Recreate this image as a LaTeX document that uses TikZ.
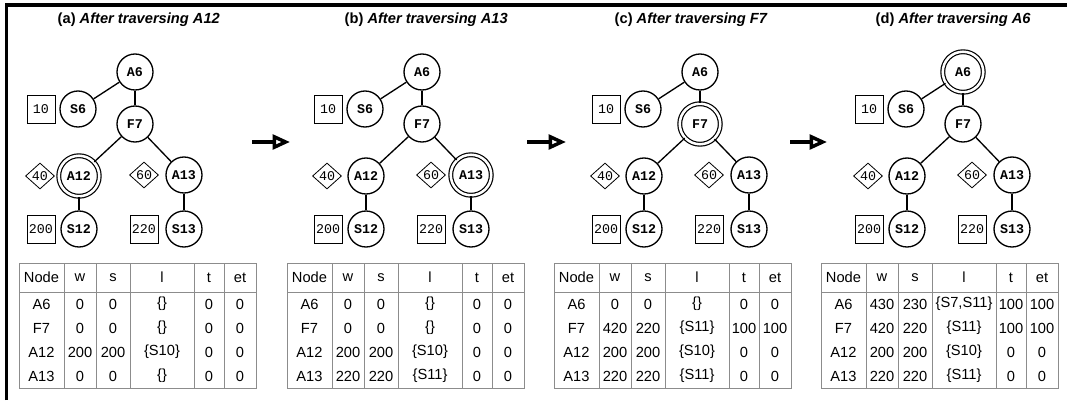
\documentclass[tikz,border=0pt]{standalone}
\usepackage{fontspec}
\setmainfont{Liberation Sans}
\newfontfamily\monofont{Liberation Mono}
\usetikzlibrary{shapes.geometric,arrows.meta}

\begin{document}
\begin{tikzpicture}[x=0.75pt, y=-0.75pt,
    nodo/.style={circle, draw, line width=1pt, minimum size=27pt, inner sep=0pt, font=\fontsize{10}{11}\monofont\bfseries},
    segnato/.style={double, double distance=1.9pt, line width=0.9pt, minimum size=30.4pt},
    peso/.style={rectangle, draw, line width=0.6pt, minimum size=21pt, inner sep=1pt, font=\fontsize{10}{11}\monofont},
    somma/.style={diamond, draw, line width=0.6pt, minimum width=21.75pt, minimum height=19.5pt, inner sep=0pt, font=\fontsize{10}{11}\monofont},
    arco/.style={line width=1pt},
    titolo/.style={anchor=west, font=\fontsize{11}{13}\selectfont\bfseries},
    cella/.style={inner sep=0pt, font=\fontsize{11}{13}\selectfont},
    griglia/.style={draw=black!45, line width=0.75pt},
    freccia/.style={line width=2.6pt, -{Triangle[open, length=13pt, width=11pt]}}]
      \useasboundingbox (0,0) rectangle (1067,400);

      % Cornice
      \draw[line width=2.5pt] (6.5,400) -- (6.5,5) -- (1067,5);

      % Alberi
      \foreach \px/\p/\m/\tx in {135/a/A12/53, 422/b/A13/340, 700/c/F7/610, 963/d/A6/871}{
        \tikzset{A6/.style={}, F7/.style={}, A12/.style={}, A13/.style={}, \m/.style={segnato}}
        \node[titolo] (t\p) at (\tx,20) {(\p) \textit{After traversing \m}};
        \node[nodo, A6] (A6\p) at (\px,72) {A6};
        \node[nodo] (S6\p) at (\px-57,109) {S6};
        \node[nodo, F7] (F7\p) at (\px,124) {F7};
        \node[nodo, A12] (A12\p) at (\px-56,176) {A12};
        \node[nodo, A13] (A13\p) at (\px+49,175) {A13};
        \node[nodo] (S12\p) at (\px-56,229) {S12};
        \node[nodo] (S13\p) at (\px+49,229) {S13};
        \node[peso] (p6\p) at (\px-94,109) {10};
        \node[somma] (d12\p) at (\px-95,176) {40};
        \node[somma] (d13\p) at (\px+9,175) {60};
        \node[peso] (p12\p) at (\px-94,229) {200};
        \node[peso] (p13\p) at (\px+9,229) {220};
        \draw[arco] (A6\p) -- (S6\p);
        \draw[arco] (A6\p) -- (F7\p);
        \draw[arco] (F7\p) -- (A12\p);
        \draw[arco] (F7\p) -- (A13\p);
        \draw[arco] (A12\p) -- (S12\p);
        \draw[arco] (A13\p) -- (S13\p);
      }

      % Tabelle
      \foreach \bx/\p in {19/a, 287/b, 554/c, 821/d}{
        \draw[griglia] (\bx,263) rectangle ++(237,125);
        \draw[griglia] (\bx,292) -- ++(237,0);
        \foreach \c in {45,77,111,175,205}
          \draw[griglia] (\bx+\c,263) -- ++(0,125);
        \foreach \c/\h [count=\k] in {22.5/Node, 61/w, 94/s, 143/l, 190/t, 221/et}
          \node[cella] (h\p\k) at (\bx+\c,277.5) {\h};
      }
      \foreach \bx/\p/\r/\y/\n/\w/\s/\l/\t/\e in {
          19/a/1/304/A6/0/0/\{\}/0/0, 19/a/2/328/F7/0/0/\{\}/0/0,
          19/a/3/352/A12/200/200/\{S10\}/0/0, 19/a/4/376/A13/0/0/\{\}/0/0,
          287/b/1/304/A6/0/0/\{\}/0/0, 287/b/2/328/F7/0/0/\{\}/0/0,
          287/b/3/352/A12/200/200/\{S10\}/0/0, 287/b/4/376/A13/220/220/\{S11\}/0/0,
          554/c/1/304/A6/0/0/\{\}/0/0, 554/c/2/328/F7/420/220/\{S11\}/100/100,
          554/c/3/352/A12/200/200/\{S10\}/0/0, 554/c/4/376/A13/220/220/\{S11\}/0/0,
          821/d/1/304/A6/430/230/{\{S7,S11\}}/100/100, 821/d/2/328/F7/420/220/\{S11\}/100/100,
          821/d/3/352/A12/200/200/\{S10\}/0/0, 821/d/4/376/A13/220/220/\{S11\}/0/0}{
        \node[cella] (n\p\r) at (\bx+22.5,\y) {\n};
        \node[cella] (w\p\r) at (\bx+61,\y) {\w};
        \node[cella] (s\p\r) at (\bx+94,\y) {\s};
        \node[cella] (l\p\r) at (\bx+143,\y) {\l};
        \node[cella] (t\p\r) at (\bx+190,\y) {\t};
        \node[cella] (e\p\r) at (\bx+221,\y) {\e};
      }

      % Frecce
      \coordinate (f1s) at (252,142);
      \coordinate (f1e) at (290,142);
      \coordinate (f2s) at (527,142);
      \coordinate (f2e) at (566,142);
      \coordinate (f3s) at (790,142);
      \coordinate (f3e) at (827,142);
      \draw[freccia] (f1s) -- (f1e);
      \draw[freccia] (f2s) -- (f2e);
      \draw[freccia] (f3s) -- (f3e);
    \end{tikzpicture}
\end{document}
